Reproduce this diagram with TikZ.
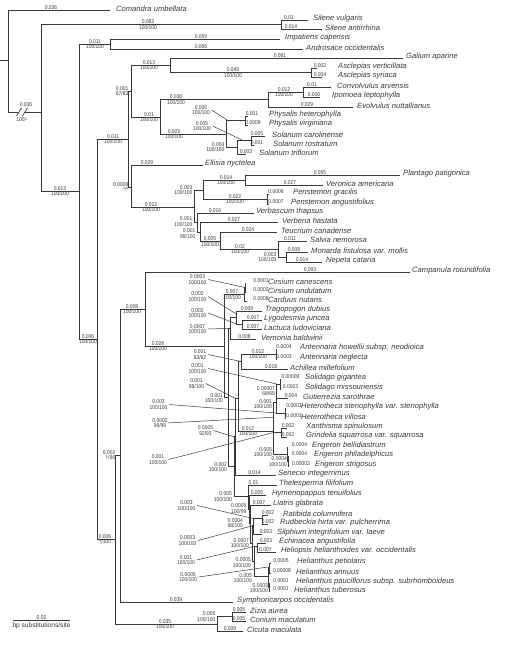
\documentclass[tikz,border=0pt]{standalone}
\usepackage{fontspec}
\setmainfont{Liberation Sans}
\usetikzlibrary{calc}
\definecolor{dk}{gray}{0.22}
\newcommand{\taxfont}{\fontsize{7.6}{8}\selectfont\itshape}
\newcommand{\lenfont}{\fontsize{5.6}{6}\selectfont}
% branch labels: length above, support below
\newcommand{\bl}[5]{%
  \node[len] (#1l) at (#2,#3) {#4};
  \node[sup] (#1s) at (#2,#3) {#5};}
\newcommand{\bll}[5]{%
  \node[len,anchor=south east] (#1l) at (#2,#3) {#4};
  \node[sup,anchor=north east] (#1s) at (#2,#3) {#5};}
\newcommand{\blc}[6]{%
  \bl{#1}{#2}{#3}{#4}{#5}
  \draw[lead] ([xshift=1pt]#1s.north east) -- (#6);}
\tikzset{
  br/.style={line width=0.7pt, draw=dk},
  lead/.style={line width=0.5pt, draw=dk},
  len/.style={font=\lenfont, text=dk, inner sep=0.6pt, anchor=south, xscale=0.88},
  sup/.style={font=\lenfont, text=dk, inner sep=0.6pt, anchor=north, xscale=0.88},
  taxon/.style={font=\taxfont, text=dk, inner sep=0pt, anchor=west, yshift=1.5pt}
}
\begin{document}
\begin{tikzpicture}[x=1pt,y=-1pt]
\useasboundingbox (0,0) rectangle (506,663);

% internal nodes
\coordinate (base) at (0,60);
\coordinate (root) at (8,60);
\coordinate (brka) at (19,112);
\coordinate (brkb) at (25,112);
\coordinate (core) at (41,112);
\coordinate (sil) at (281,24.5);
\coordinate (eud) at (79,191);
\coordinate (eric) at (110,44);
\coordinate (n3) at (97,339);
\coordinate (lam) at (128,139);
\coordinate (gs) at (131,91);
\coordinate (gent) at (170,65);
\coordinate (ascl) at (311,72.5);
\coordinate (sol) at (160,117);
\coordinate (conv) at (268,99.5);
\coordinate (ci) at (303,92);
\coordinate (solan) at (226,134);
\coordinate (phys) at (245,120.5);
\coordinate (solm) at (237,147);
\coordinate (cr) at (251,140.5);
\coordinate (l2) at (131,187);
\coordinate (lmls) at (194,207);
\coordinate (plant) at (203,190);
\coordinate (pv) at (245,180);
\coordinate (pen) at (267,199);
\coordinate (la1) at (197,222.5);
\coordinate (la2) at (200,232);
\coordinate (la3) at (220,241.5);
\coordinate (la4) at (278,249);
\coordinate (mn) at (286,257);
\coordinate (camp) at (115,539);
\coordinate (ast) at (120,455);
\coordinate (astl) at (145,309);
\coordinate (asc) at (224,346);
\coordinate (api) at (217,624);
\coordinate (zc) at (232,616.5);
% Asteraceae
\coordinate (card) at (244,294.25);
\coordinate (cir) at (245,287.5);
\coordinate (r1) at (228,397.5);
\coordinate (cich) at (230,328.4);
\coordinate (c1) at (236,317.75);
\coordinate (ll) at (242,324.5);
\coordinate (astd) at (234,466.6);
\coordinate (gsp) at (235.5,436.75);
\coordinate (g) at (238.5,398.5);
\coordinate (aa) at (241,361.5);
\coordinate (ant) at (276,354);
\coordinate (p3) at (273,431);
\coordinate (p6) at (273.5,417.25);
\coordinate (q) at (276.4,402);
\coordinate (sg) at (276.6,391);
\coordinate (sold) at (280,384);
\coordinate (het) at (285,413);
\coordinate (xg) at (281,432.5);
\coordinate (eri) at (287,454);
\coordinate (ps) at (288,461);
\coordinate (ha) at (248,496.4);
\coordinate (hr) at (249.5,508.9);
\coordinate (hr2) at (250.5,523.8);
\coordinate (hr3) at (252.5,543.6);
\coordinate (xs) at (253.4,525.75);
\coordinate (rr) at (262,518.5);
\coordinate (h5) at (254,561.5);
\coordinate (h6) at (257,546.5);
\coordinate (hel) at (268,576.5);
\coordinate (pa) at (269.5,567);
\coordinate (pt) at (269,587);

\draw[br] (base) -- (root);
\draw[br] (root) |- (brka);
\draw[br] (brkb) -- (core);
\draw[br] (16.5,116) -- (21.5,108);
\draw[br] (22.5,116) -- (27.5,108);
\foreach \a/\b in {core/sil,core/eud,eud/eric,eud/n3,n3/lam,n3/camp,
  lam/gs,lam/l2,gs/gent,gs/sol,gent/ascl,sol/conv,sol/solan,conv/ci,
  solan/phys,solan/solm,solm/cr,l2/lmls,lmls/plant,lmls/la1,plant/pv,
  plant/pen,la1/la2,la2/la3,la3/la4,la4/mn,camp/ast,camp/api,ast/astl,
  astl/asc,api/zc,asc/card,card/cir,asc/r1,r1/cich,r1/astd,cich/c1,c1/ll,
  astd/gsp,astd/ha,gsp/g,g/aa,g/p3,aa/ant,p3/p6,p3/eri,p6/q,p6/xg,
  q/sg,q/het,sg/sold,eri/ps,ha/hr,hr/hr2,hr2/hr3,hr3/xs,hr3/h5,xs/rr,
  h5/h6,h5/hel,hel/pa,hel/pt}
  \draw[br] (\a) |- (\b);

% tips
\foreach \n/\p/\x/\y/\l/\lx/\t/\tx in {
  coum/root/110/10/0.036/51/Comandra umbellata/116,
  sivu/sil/308/20/0.01/289/Silene vulgaris/313,
  sian/sil/322/29/0.014/291/Silene antirrhina/325,
  imca/eric/280/39/0.059/201/Impatiens capensis/285,
  anoc/eric/303/49/0.066/201/Androsace occidentalis/306,
  gaap/gent/403/58/0.081/280/Galium aparine/406,
  asve/ascl/317/68/0.002/320/Asclepias verticillata/338,
  assy/ascl/322/77/0.004/320/Asclepias syriaca/338,
  coar/ci/331/87/0.01/312/Convolvulus arvensis/337,
  iple/ci/320/97/0.006/314/Ipomoea leptophylla/332,
  evnu/conv/353/107/0.029/307/Evolvulus nuttallianus/357,
  phhe/phys/248/116/0.001/252/Physalis heterophylla/269,
  phvi/phys/248/125/0.0009/253/Physalis virginiana/269,
  soca/cr/265/136/0.005/257/Solanum carolinense/272,
  soro/cr/254/145/0.001/257/Solanum rostratum/273,
  sotr/solm/246/154/0.003/246/Solanum triflorum/259,
  elny/l2/203/165/0.029/147/Ellisia nyctelea/205,
  plpa/pv/400/175/0.055/320/Plantago patigonica/403,
  veam/pv/323/185/0.027/290/Veronica americana/326,
  pegr/pen/269/194/0.0006/276/Penstemon gracilis/293,
  pean/pen/269/204/0.0007/276/Penstemon angustifolius/291,
  veth/la1/254/213/0.016/215/Verbascum thapsus/256,
  veha/la2/278/222/0.027/234/Verbena hastata/282,
  teca/la3/277/232/0.024/248/Teucrium canadense/281,
  sane/la4/307/241/0.011/290/Salvia nemorosa/310,
  mofi/mn/308/252/0.008/294/Monarda fistulosa var. mollis/311,
  neca/mn/322/262/0.014/302/Nepeta cataria/326,
  caro/astl/410/272/0.093/310/Campanula rotundifolia/412,
  cica/cir/245.5/283/0.0001/261/Cirsium canescens/268,
  ciun/cir/245.5/292/0.0002/261/Cirsium undulatum/268,
  canu/card/246.5/301/0.0008/261/Carduus nutans/268,
  trdu/c1/262/311/0.009/247/Tragopogon dubius/265,
  lyju/ll/262/320/0.007/253/Lygodesmia juncea/264,
  lalu/ll/262/329/0.007/253/Lactuca ludoviciana/264,
  veba/cich/256/339/0.008/244.5/Vernonia baldwinii/261,
  anho/ant/277/349/0.0004/284/Antennaria howellii subsp. neodioica/300,
  anne/ant/277/359/0.0003/284/Antennaria neglecta/300,
  acmi/aa/288/369/0.018/271/Achillea millefolium/290,
  sogi/sold/280.5/379/0.00008/290.5/Solidago gigantea/305,
  somi/sold/281/389/0.0003/290.5/Solidago missouriensis/305,
  gusa/sg/288/398/0.004/291/Gutierrezia sarothrae/303,
  hest/het/286/408/0.0003/294/Heterotheca stenophylla var. stenophylla/301,
  hevi/het/286/418/0.0003/294/Heterotheca villosa/301,
  xasp/xg/286.7/428/0.002/288/Xanthisma spinulosum/306,
  grsq/xg/286.7/437/0.002/288/Grindelia squarrosa var. squarrosa/306,
  erbe/eri/288/447/0.0004/299.5/Erigeron bellidiastrum/312,
  erph/ps/289/456/0.0004/299.5/Erigeron philadelphicus/314,
  erst/ps/288.2/466/0.00003/301/Erigeron strigosus/315,
  sein/gsp/275.5/475/0.014/254.5/Senecio integerrimus/278,
  thfi/ha/276.5/485/0.01/253.5/Thelesperma filifolium/279,
  hyte/hr/266/495/0.005/257/Hymenopappus tenuifolius/272,
  ligl/hr2/270.5/505/0.007/259/Liatris glabrata/273,
  raco/rr/267.7/515/0.002/268/Ratibida columnifera/283,
  ruhi/rr/267.7/524/0.002/268/Rudbeckia hirta var. pulcherrima/280,
  siin/xs/262/534/0.003/266/Silphium integrifolium var. laeve/277,
  ecan/h6/265.5/543/0.003/266/Echinacea angustifolia/279,
  hehe/h6/276/552/0.007/265.5/Heliopsis helianthoides var. occidentalis/281,
  hepe/pa/271/563/0.0005/281/Helianthus petiolaris/297,
  hean/pa/270/573/0.00008/282/Helianthus annuus/296,
  hepa/pt/269.5/583/0.0001/281/Helianthus pauciflorus subsp. subrhomboideus/296,
  hetu/pt/269.5/591/0.0001/281/Helianthus tuberosus/294,
  syoc/ast/233/602/0.039/176/Symphoricarpos occidentalis/237,
  ziau/zc/246/612/0.005/239/Zizia aurea/250,
  coma/zc/246/621/0.005/239/Conium maculatum/250,
  cima/api/243/631/0.009/230/Cicuta maculata/247}
{
  \coordinate (\n) at (\x,\y);
  \draw[br] (\p) |- (\n);
  \node[len] (\n-l) at (\lx,\y) {\l};
  \node[taxon] (\n-t) at (\tx,\y) {\t};
}

% internal branch labels
\node[len] (corel) at (26,107) {0.036};
\node[sup] (cores) at (22,116.5) {100/-};
\bl{sil}{148}{24.5}{0.083}{100/100}
\bl{eud}{60}{191}{0.013}{100/100}
\bl{eric}{95}{44}{0.011}{100/100}
\bl{n3}{88}{339}{0.006}{100/100}
\bl{lam}{113}{139}{0.011}{100/100}
\bll{gs}{129}{91}{0.001}{67/83}
\bl{gent}{149}{65}{0.013}{100/100}
\bl{ascl}{233}{72.5}{0.049}{100/100}
\bl{sol}{149}{117}{0.01}{100/100}
\bl{conv}{176}{99.5}{0.038}{100/100}
\bl{ci}{284}{92}{0.012}{100/100}
\bl{solan}{174}{134}{0.023}{100/100}
\blc{phys}{201}{110}{0.006}{100/100}{$(solan|-phys)+(2,0)$}
\blc{cr}{202}{126}{0.005}{100/100}{$(solm|-cr)+(6,0)$}
\bll{solm}{225}{147}{0.004}{100/100}
\bll{l2}{129}{187}{0.0008}{*/*}
\bl{lmls}{151}{207}{0.022}{100/100}
\bll{plant}{193}{190}{0.003}{100/100}
\bl{pv}{226}{180}{0.014}{100/100}
\bl{pen}{235}{199}{0.022}{100/100}
\bll{la1}{193}{221.5}{0.001}{100/100}
\bll{la2}{196}{233.5}{0.001}{99/100}
\bl{la3}{210}{241.5}{0.005}{100/100}
\bl{la4}{240}{249}{0.02}{100/100}
\bll{mn}{277}{257}{0.003}{100/100}
\bl{camp}{105}{539}{0.006}{†/100}
\bll{ast}{116}{455}{0.002}{†/90}
\bl{astl}{132}{309}{0.008}{100/100}
\bl{asc}{158}{346}{0.028}{100/100}
\bl{api}{165}{624}{0.035}{100/100}
\bll{zc}{216}{616.5}{0.005}{100/100}
% Asteraceae
\bl{card}{232}{294.25}{0.007}{100/100}
\blc{cir}{197.5}{279.5}{0.0003}{100/100}{cir}
\blc{c1}{197.5}{296.5}{0.002}{100/100}{$(c1)+(0,-4)$}
\blc{ll}{197.5}{313}{0.002}{100/100}{$(c1|-ll)+(2,0)$}
\blc{cich}{197.5}{329}{0.0007}{100/100}{$(r1|-cich)+(1,0)$}
\bll{r1}{223.5}{398}{0.001}{100/100}
\blc{aa}{200}{354.5}{0.001}{83/92}{aa}
\bl{ant}{258}{354}{0.012}{100/100}
\blc{sold}{197.5}{368.5}{0.001}{100/100}{sg|-sold}
\blc{g}{196.5}{383.5}{0.001}{98/100}{gsp|-g}
\bll{sg}{275.5}{391}{0.00007}{68/69}
\bll{q}{272.5}{404}{0.001}{100/100}
\blc{het}{158.5}{404.5}{0.003}{100/100}{q|-het}
\blc{p6}{160}{423}{0.0002}{96/99}{p3|-p6}
\bl{p3}{248}{431}{0.012}{100/100}
\blc{gsp}{205.5}{430.5}{0.0005}{92/93}{astd|-gsp}
\blc{xg}{158}{459.5}{0.001}{100/100}{p6|-xg}
\bll{eri}{272.5}{452}{0.005}{100/100}
\bll{ps}{287.5}{461.5}{0.0004}{100/100}
\bll{astd}{227.5}{467}{0.002}{100/100}
\bll{ha}{232.5}{496.4}{0.005}{100/100}
\bll{hr}{247}{508.5}{0.0005}{100/99}
\bll{hr2}{243.5}{523}{0.0004}{98/100}
\blc{rr}{186.5}{505.5}{0.003}{100/100}{xs|-rr}
\blc{xs}{187.5}{540.5}{0.0003}{100/100}{hr3|-xs}
\bll{hr3}{249.5}{543}{0.0007}{100/100}
\blc{h6}{186}{560}{0.001}{100/100}{h5|-h6}
\bll{h5}{251.5}{562.5}{0.0005}{100/100}
\blc{pa}{188}{577}{0.0005}{100/100}{hel|-pa}
\bll{hel}{252.5}{578}{0.005}{100/100}
\bll{pt}{268.5}{588}{0.0003}{100/100}

% scale bar
\coordinate (sba) at (13,620);
\coordinate (sbb) at (70,620);
\draw[br] (sba) -- (sbb) node[len,midway] (sbl) {0.02};
\node[font=\fontsize{6.6}{7}\selectfont, text=dk, anchor=north, inner sep=0.6pt]
  (sbt) at ($(sba)!0.5!(sbb)+(0,1.5)$) {bp substitutions/site};
\end{tikzpicture}
\end{document}
